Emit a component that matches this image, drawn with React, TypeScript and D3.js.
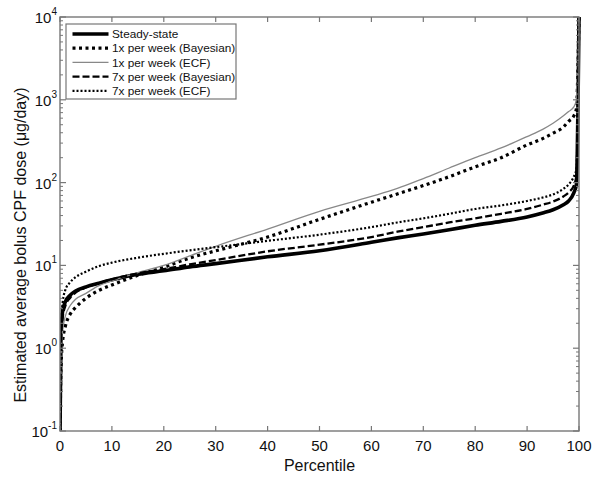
import React from 'react';
import * as d3 from 'd3';

// percentile grid shared by all curves
const percentiles = [0, 0.2, 0.5, 1, 2, 3, 5, 7.5, 10, 15, 20, 25, 30, 40, 50, 60, 65, 70, 75, 80, 85, 90, 93, 95, 97, 98, 99, 99.5, 100];

const steadyState = [0.1, 1.5, 2.8, 3.6, 4.4, 4.9, 5.5, 6.1, 6.7, 7.8, 8.6, 9.6, 10.5, 12.7, 15, 19, 21.5, 24, 27, 30.5, 34, 38.5, 43, 47, 54, 60, 75, 95, 10000];
const weekly1Bayes = [0.1, 0.6, 1.2, 1.8, 2.6, 3.1, 4, 5, 5.8, 7.6, 9.5, 12.3, 15, 22, 36, 58, 73, 92, 118, 155, 200, 285, 340, 395, 470, 550, 640, 780, 10000];
const weekly1Ecf = [0.1, 0.8, 1.6, 2.4, 3.3, 3.9, 4.6, 5.7, 6.5, 8.2, 10, 13, 17, 27.5, 45, 68, 85, 112, 150, 200, 262, 360, 440, 520, 640, 720, 820, 1000, 10000];
const weekly7Bayes = [0.1, 1.2, 2.3, 3.2, 4.1, 4.7, 5.4, 6.1, 6.8, 8, 9, 10.3, 11.6, 14.8, 17.8, 22, 25.5, 29, 33, 37, 42, 48, 54, 59, 68, 76, 92, 120, 10000];
const weekly7Ecf = [0.1, 1.5, 3.5, 5, 6.3, 7.2, 8.4, 9.8, 10.8, 12.4, 13.8, 15.2, 16.6, 19.8, 23.5, 29, 33, 37, 42, 48, 53, 60, 66, 72, 84, 95, 118, 145, 10000];

const seriesNames = ['Steady-state', '1x per week (Bayesian)', '1x per week (ECF)', '7x per week (Bayesian)', '7x per week (ECF)'];
const seriesValues = [steadyState, weekly1Bayes, weekly1Ecf, weekly7Bayes, weekly7Ecf];

const xTicks = [0, 10, 20, 30, 40, 50, 60, 70, 80, 90, 100];
const yExponents = [-1, 0, 1, 2, 3, 4];

// line looks, same order as the series
const styles = [
  { stroke: '#000', width: 3.6, dash: null },
  { stroke: '#000', width: 3.2, dash: '3,3.5' },
  { stroke: '#888', width: 1.3, dash: null },
  { stroke: '#000', width: 2.3, dash: '7,3' },
  { stroke: '#000', width: 2.2, dash: '2,2' },
];

const W = 600, H = 480;
const left = 60, right = 579, top = 17, bottom = 431;

export default function App() {
  const x = d3.scaleLinear().domain([0, 100]).range([left, right]);
  const y = d3.scaleLog().domain([0.1, 10000]).range([bottom, top]);

  const line = d3.line<[number, number]>()
    .x(d => x(d[0]))
    .y(d => y(d[1]))
    .curve(d3.curveMonotoneX);

  // minor ticks of the log axis
  const minor: number[] = [];
  for (let e = -1; e < 4; e++) {
    for (let k = 2; k < 10; k++) minor.push(k * Math.pow(10, e));
  }

  const frame = '#777';
  const ink = '#111';
  const font = '"Liberation Sans", Arial, Helvetica, sans-serif';

  return (
    <svg width={W} height={H} style={{ position: 'absolute', left: 0, top: 0, background: '#fff' }} fontFamily={font}>
      <defs>
        <clipPath id="plot">
          <rect x={left} y={top - 2} width={right - left + 2} height={bottom - top + 2} />
        </clipPath>
      </defs>

      {/* curves */}
      <g clipPath="url(#plot)">
        {seriesValues.map((vals, i) => (
          <path key={i}
            d={line(vals.map((v, j) => [percentiles[j], v]) as [number, number][]) || ''}
            fill="none"
            stroke={styles[i].stroke}
            strokeWidth={styles[i].width}
            strokeDasharray={styles[i].dash || undefined}
            strokeLinejoin="round" />
        ))}
      </g>

      {/* frame */}
      <rect x={left} y={top} width={right - left} height={bottom - top} fill="none" stroke={frame} strokeWidth={1.4} />

      {/* x ticks, bottom and top, pointing in */}
      {xTicks.map(t => (
        <g key={t}>
          <line x1={x(t)} x2={x(t)} y1={bottom} y2={bottom - 5} stroke={frame} strokeWidth={1.2} />
          <line x1={x(t)} x2={x(t)} y1={top} y2={top + 5} stroke={frame} strokeWidth={1.2} />
          <text x={x(t)} y={bottom + 20} textAnchor="middle" fontSize={15} fill={ink}>{t}</text>
        </g>
      ))}

      {/* y ticks */}
      {yExponents.map(e => {
        const v = Math.pow(10, e);
        return (
          <g key={e}>
            <line x1={left} x2={left + 6} y1={y(v)} y2={y(v)} stroke={frame} strokeWidth={1.2} />
            <line x1={right} x2={right - 6} y1={y(v)} y2={y(v)} stroke={frame} strokeWidth={1.2} />
            <text x={57} y={y(v) + 6} textAnchor="end" fontSize={15} fill={ink}>
              <tspan>10</tspan>
              <tspan dy={-8} fontSize={10}>{e}</tspan>
            </text>
          </g>
        );
      })}
      {minor.map((v, i) => (
        <g key={i}>
          <line x1={left} x2={left + 3} y1={y(v)} y2={y(v)} stroke={frame} strokeWidth={1} />
          <line x1={right} x2={right - 3} y1={y(v)} y2={y(v)} stroke={frame} strokeWidth={1} />
        </g>
      ))}

      {/* axis titles */}
      <text x={(left + right) / 2} y={471} textAnchor="middle" fontSize={16} fill={ink}>Percentile</text>
      <text transform="translate(26, 245) rotate(-90)" textAnchor="middle" fontSize={16} fill={ink}>
        Estimated average bolus CPF dose (μg/day)
      </text>

      {/* legend */}
      <rect x={66} y={24} width={170} height={75} fill="#fff" stroke={frame} strokeWidth={1.2} />
      {seriesNames.map((name, i) => {
        const ly = 34 + i * 14.2;
        return (
          <g key={name}>
            <line x1={72.5} x2={108.5} y1={ly} y2={ly}
              stroke={styles[i].stroke}
              strokeWidth={styles[i].width}
              strokeDasharray={styles[i].dash || undefined} />
            <text x={112} y={ly + 4.2} fontSize={11.8} fill={ink}>{name}</text>
          </g>
        );
      })}
    </svg>
  );
}
